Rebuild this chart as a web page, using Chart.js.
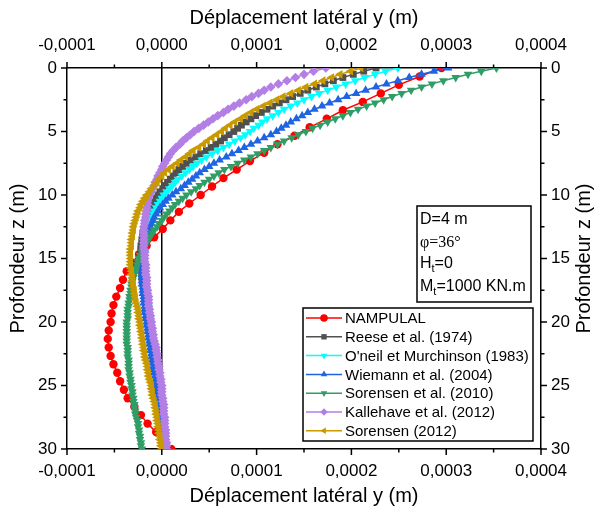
<!DOCTYPE html>
<html>
<head>
<meta charset="utf-8">
<script src="https://cdn.jsdelivr.net/npm/chart.js@4.4.1/dist/chart.umd.min.js"></script>
<style>
  html, body { margin: 0; padding: 0; background: #fff; }
  canvas { display: block; }
</style>
</head>
<body>
<canvas id="chart" width="595" height="510"></canvas>
<script>
// lateral displacement in units of 1e-4 m, depth in m
const DEPTH = [
    0,0.25,0.5,0.75,1,1.25,1.5,1.75,2,2.25,2.5,2.75,3,3.25,3.5,3.75,4,4.25,4.5,4.75,
    5,5.25,5.5,5.75,6,6.25,6.5,6.75,7,7.25,7.5,7.75,8,8.25,8.5,8.75,9,9.25,9.5,9.75,
    10,10.25,10.5,10.75,11,11.25,11.5,11.75,12,12.25,12.5,12.75,13,13.25,13.5,13.75,14,14.25,14.5,14.75,
    15,15.25,15.5,15.75,16,16.25,16.5,16.75,17,17.25,17.5,17.75,18,18.25,18.5,18.75,19,19.25,19.5,19.75,
    20,20.25,20.5,20.75,21,21.25,21.5,21.75,22,22.25,22.5,22.75,23,23.25,23.5,23.75,24,24.25,24.5,24.75,
    25,25.25,25.5,25.75,26,26.25,26.5,26.75,27,27.25,27.5,27.75,28,28.25,28.5,28.75,29,29.25,29.5,29.75,
    30];
const DEPTH_NAMPULAL = [0,0.67,1.33,2,2.67,3.33,4,4.67,5.33,6,6.67,7.33,8,8.67,9.33,10,10.67,11.33,12,12.67,13.33,14,14.67,15.33,16,16.67,17.33,18,18.67,19.33,20,20.67,21.33,22,22.67,23.33,24,24.67,25.33,26,26.67,27.33,28,28.67,29.33,30];

const NAMPULAL = [2.95,2.72,2.50,2.31,2.12,1.91,1.74,1.56,1.40,1.22,1.08,0.93,0.79,0.65,0.53,0.41,0.29,0.18,0.09,0.01,-0.08,-0.16,-0.24,-0.31,-0.37,-0.41,-0.44,-0.48,-0.51,-0.53,-0.54,-0.56,-0.57,-0.56,-0.54,-0.51,-0.47,-0.44,-0.40,-0.36,-0.29,-0.22,-0.15,-0.06,0.01,0.10];
const REESE_1974 = [
    2.26,2.13,2.02,1.91,1.81,1.72,1.63,1.54,1.46,1.38,1.31,1.24,1.17,1.11,1.05,0.99,0.94,0.89,0.84,0.80,
    0.76,0.71,0.66,0.62,0.57,0.52,0.47,0.41,0.36,0.31,0.26,0.22,0.18,0.15,0.12,0.09,0.06,0.03,0.01,-0.02,
    -0.04,-0.06,-0.08,-0.10,-0.11,-0.13,-0.14,-0.15,-0.16,-0.17,-0.18,-0.19,-0.20,-0.20,-0.21,-0.21,-0.22,-0.22,-0.22,-0.22,
    -0.22,-0.22,-0.22,-0.21,-0.21,-0.21,-0.21,-0.20,-0.20,-0.19,-0.19,-0.18,-0.18,-0.17,-0.17,-0.16,-0.16,-0.15,-0.15,-0.14,
    -0.14,-0.13,-0.13,-0.12,-0.12,-0.11,-0.11,-0.10,-0.10,-0.09,-0.09,-0.08,-0.08,-0.07,-0.07,-0.06,-0.06,-0.05,-0.05,-0.04,
    -0.04,-0.03,-0.03,-0.02,-0.02,-0.01,-0.01,0.00,0.00,0.00,0.01,0.01,0.01,0.02,0.02,0.02,0.02,0.03,0.03,0.03,
    0.03];
const ONEIL_1983 = [
    2.49,2.36,2.25,2.14,2.04,1.94,1.84,1.75,1.66,1.58,1.50,1.43,1.36,1.29,1.23,1.17,1.11,1.06,1.02,0.97,
    0.93,0.88,0.83,0.77,0.71,0.65,0.59,0.53,0.47,0.42,0.37,0.33,0.29,0.25,0.21,0.17,0.14,0.11,0.08,0.05,
    0.02,0.00,-0.02,-0.04,-0.06,-0.08,-0.09,-0.11,-0.12,-0.13,-0.14,-0.15,-0.16,-0.17,-0.17,-0.18,-0.18,-0.19,-0.19,-0.19,
    -0.19,-0.19,-0.19,-0.19,-0.18,-0.18,-0.18,-0.18,-0.17,-0.17,-0.16,-0.16,-0.16,-0.15,-0.15,-0.14,-0.14,-0.14,-0.13,-0.13,
    -0.12,-0.12,-0.12,-0.11,-0.11,-0.11,-0.10,-0.10,-0.09,-0.09,-0.08,-0.08,-0.07,-0.07,-0.06,-0.06,-0.05,-0.05,-0.04,-0.04,
    -0.03,-0.03,-0.02,-0.02,-0.02,-0.01,-0.01,0.00,0.00,0.00,0.01,0.01,0.02,0.02,0.02,0.02,0.03,0.03,0.03,0.04,
    0.04];
const WIEMANN_2004 = [
    3.02,2.87,2.74,2.61,2.49,2.37,2.26,2.15,2.05,1.95,1.86,1.77,1.69,1.61,1.54,1.48,1.42,1.36,1.31,1.26,
    1.21,1.15,1.08,1.01,0.94,0.87,0.81,0.74,0.68,0.61,0.55,0.50,0.45,0.40,0.36,0.32,0.28,0.24,0.20,0.15,
    0.11,0.07,0.04,0.01,-0.02,-0.04,-0.06,-0.08,-0.09,-0.11,-0.12,-0.13,-0.14,-0.15,-0.16,-0.17,-0.18,-0.18,-0.19,-0.19,
    -0.20,-0.20,-0.21,-0.21,-0.21,-0.21,-0.21,-0.21,-0.21,-0.20,-0.20,-0.20,-0.19,-0.19,-0.19,-0.18,-0.18,-0.18,-0.17,-0.17,
    -0.16,-0.16,-0.15,-0.15,-0.14,-0.14,-0.13,-0.13,-0.12,-0.12,-0.11,-0.11,-0.10,-0.10,-0.09,-0.09,-0.08,-0.07,-0.06,-0.06,
    -0.05,-0.05,-0.04,-0.04,-0.03,-0.03,-0.02,-0.02,-0.01,-0.01,0.00,0.00,0.01,0.01,0.01,0.01,0.02,0.02,0.02,0.03,
    0.03];
const SORENSEN_2010 = [
    3.53,3.37,3.23,3.10,2.97,2.85,2.74,2.63,2.53,2.43,2.34,2.25,2.16,2.07,1.99,1.91,1.83,1.75,1.67,1.59,
    1.52,1.44,1.37,1.29,1.22,1.15,1.08,1.01,0.94,0.87,0.80,0.73,0.66,0.60,0.55,0.50,0.45,0.40,0.36,0.31,
    0.26,0.22,0.18,0.14,0.11,0.08,0.05,0.02,0.00,-0.03,-0.05,-0.08,-0.10,-0.12,-0.14,-0.16,-0.18,-0.20,-0.21,-0.23,
    -0.24,-0.25,-0.26,-0.27,-0.28,-0.29,-0.30,-0.31,-0.32,-0.32,-0.33,-0.33,-0.34,-0.34,-0.35,-0.35,-0.36,-0.36,-0.36,-0.36,
    -0.37,-0.37,-0.37,-0.37,-0.37,-0.37,-0.37,-0.37,-0.36,-0.36,-0.36,-0.36,-0.35,-0.35,-0.35,-0.35,-0.34,-0.34,-0.33,-0.33,
    -0.32,-0.32,-0.31,-0.31,-0.30,-0.30,-0.29,-0.29,-0.28,-0.28,-0.27,-0.26,-0.25,-0.25,-0.24,-0.24,-0.23,-0.23,-0.22,-0.22,
    -0.21];
const KALLEHAVE_2012 = [
    1.73,1.60,1.50,1.41,1.32,1.23,1.15,1.08,1.02,0.95,0.89,0.82,0.76,0.70,0.65,0.59,0.54,0.49,0.44,0.39,
    0.34,0.30,0.26,0.22,0.19,0.15,0.12,0.09,0.07,0.05,0.03,0.01,0.00,-0.02,-0.04,-0.05,-0.07,-0.08,-0.10,-0.11,
    -0.13,-0.14,-0.15,-0.15,-0.16,-0.16,-0.17,-0.17,-0.18,-0.18,-0.19,-0.19,-0.19,-0.19,-0.19,-0.19,-0.19,-0.19,-0.18,-0.18,
    -0.18,-0.18,-0.17,-0.17,-0.17,-0.17,-0.16,-0.16,-0.16,-0.16,-0.15,-0.15,-0.14,-0.14,-0.14,-0.14,-0.13,-0.13,-0.12,-0.12,
    -0.11,-0.11,-0.10,-0.10,-0.09,-0.09,-0.08,-0.07,-0.06,-0.06,-0.05,-0.05,-0.04,-0.04,-0.03,-0.03,-0.02,-0.02,-0.01,-0.01,
    0.00,0.00,0.00,0.00,0.01,0.01,0.02,0.02,0.02,0.02,0.03,0.03,0.03,0.03,0.04,0.04,0.04,0.04,0.05,0.05,
    0.05];
const SORENSEN_2012 = [
    2.10,1.99,1.88,1.79,1.70,1.61,1.52,1.44,1.36,1.28,1.21,1.14,1.07,1.00,0.94,0.88,0.83,0.77,0.72,0.67,
    0.63,0.58,0.53,0.48,0.44,0.39,0.33,0.29,0.25,0.20,0.16,0.11,0.07,0.03,0.00,-0.03,-0.05,-0.08,-0.11,-0.13,
    -0.16,-0.18,-0.20,-0.22,-0.23,-0.25,-0.26,-0.27,-0.28,-0.29,-0.30,-0.30,-0.31,-0.31,-0.32,-0.32,-0.32,-0.33,-0.33,-0.33,
    -0.33,-0.33,-0.33,-0.33,-0.32,-0.32,-0.31,-0.31,-0.30,-0.30,-0.29,-0.29,-0.28,-0.28,-0.27,-0.26,-0.25,-0.25,-0.24,-0.24,
    -0.23,-0.23,-0.22,-0.22,-0.21,-0.21,-0.20,-0.20,-0.19,-0.19,-0.18,-0.18,-0.17,-0.16,-0.15,-0.15,-0.14,-0.14,-0.13,-0.12,
    -0.11,-0.11,-0.10,-0.10,-0.09,-0.08,-0.07,-0.07,-0.06,-0.06,-0.05,-0.05,-0.04,-0.04,-0.03,-0.03,-0.02,-0.02,-0.01,-0.01,
    0.00];

const SERIES_LABELS = ['NAMPULAL','Reese et al. (1974)',"O'neil et Murchinson (1983)",'Wiemann et al. (2004)','Sorensen et al. (2010)','Kallehave et al. (2012)','Sorensen (2012)'];
const X_TICK_VALUES = [-1, 0, 1, 2, 3, 4];
const X_TICK_LABELS = ['-0,0001','0,0000','0,0001','0,0002','0,0003','0,0004'];
const Y_TICK_LABELS = ['0','5','10','15','20','25','30'];
const X_TITLE = 'Déplacement latéral y (m)';
const Y_TITLE = 'Profondeur z (m)';

const FONT = '"Liberation Sans", Arial, sans-serif';

function points(depths, values) {
    return values.map((v, i) => ({ x: v, y: depths[i] }));
}

const styles = [
    { color: '#ff0000', pointStyle: 'circle', rotation: 0, radius: 4.2 },
    { color: '#505050', pointStyle: 'rect', rotation: 0, radius: 4.8 },
    { color: '#00ffff', pointStyle: 'triangle', rotation: 180, radius: 5 },
    { color: '#1f64e0', pointStyle: 'triangle', rotation: 0, radius: 5 },
    { color: '#2f9e66', pointStyle: 'triangle', rotation: 180, radius: 5 },
    { color: '#b37fe5', pointStyle: 'rectRot', rotation: 0, radius: 4.8 },
    { color: '#c89a00', pointStyle: 'triangle', rotation: 270, radius: 5 }
];

const seriesValues = [NAMPULAL, REESE_1974, ONEIL_1983, WIEMANN_2004, SORENSEN_2010, KALLEHAVE_2012, SORENSEN_2012];

const datasets = seriesValues.map((vals, i) => ({
    label: SERIES_LABELS[i],
    data: points(i === 0 ? DEPTH_NAMPULAL : DEPTH, vals),
    showLine: true,
    borderColor: styles[i].color,
    backgroundColor: styles[i].color,
    borderWidth: 1.5,
    pointStyle: styles[i].pointStyle,
    rotation: styles[i].rotation,
    pointRadius: styles[i].radius,
    pointBorderWidth: 0,
    order: seriesValues.length - i
}));

function xLabel(v) {
    const k = X_TICK_VALUES.indexOf(v);
    return k >= 0 ? X_TICK_LABELS[k] : '';
}
function yLabel(v) {
    return v % 5 === 0 ? Y_TICK_LABELS[v / 5] : '';
}

const tickFont = { family: FONT, size: 17 };

const decor = {
    id: 'decor',
    beforeDraw(chart) {
        const ctx = chart.ctx;
        ctx.save();
        ctx.fillStyle = '#fff';
        ctx.fillRect(0, 0, chart.width, chart.height);
        ctx.restore();
    },
    afterDraw(chart) {
        const { ctx, chartArea: a, scales } = chart;
        ctx.save();
        ctx.strokeStyle = '#000';
        ctx.lineWidth = 1.5;

        // tick marks, outward
        const tick = (scale, side) => {
            scale.ticks.forEach(t => {
                const len = t.label !== '' ? 6 : 3.5;
                const p = scale.getPixelForValue(t.value);
                ctx.beginPath();
                if (side === 'bottom') { ctx.moveTo(p, a.bottom); ctx.lineTo(p, a.bottom + len); }
                if (side === 'top') { ctx.moveTo(p, a.top); ctx.lineTo(p, a.top - len); }
                if (side === 'left') { ctx.moveTo(a.left, p); ctx.lineTo(a.left - len, p); }
                if (side === 'right') { ctx.moveTo(a.right, p); ctx.lineTo(a.right + len, p); }
                ctx.stroke();
            });
        };
        tick(scales.x, 'bottom');
        tick(scales.x2, 'top');
        tick(scales.y, 'left');
        tick(scales.y2, 'right');

        // axis titles
        ctx.fillStyle = '#000';
        ctx.font = '20px ' + FONT;
        ctx.textAlign = 'center';
        ctx.textBaseline = 'middle';
        const cx = (a.left + a.right) / 2, cy = (a.top + a.bottom) / 2;
        ctx.fillText(X_TITLE, cx, 18);
        ctx.fillText(X_TITLE, cx, 496);
        ctx.save();
        ctx.translate(18, cy);
        ctx.rotate(-Math.PI / 2);
        ctx.fillText(Y_TITLE, 0, 0);
        ctx.restore();
        ctx.save();
        ctx.translate(584, cy);
        ctx.rotate(-Math.PI / 2);
        ctx.fillText(Y_TITLE, 0, 0);
        ctx.restore();

        // parameter box
        const bx = 417, by = 206, bw = 114, bh = 96;
        ctx.fillStyle = '#fff';
        ctx.fillRect(bx, by, bw, bh);
        ctx.strokeRect(bx, by, bw, bh);
        ctx.fillStyle = '#000';
        ctx.textAlign = 'left';
        ctx.textBaseline = 'middle';
        ctx.font = '16px ' + FONT;
        ctx.fillText('D=4 m', bx + 3, by + 14);
        ctx.font = '16px "Liberation Serif", "Times New Roman", serif';
        ctx.fillText('\u03c6=36\u00b0', bx + 3, by + 37);
        const sub = (main, s, rest, y) => {
            ctx.font = '16px ' + FONT;
            ctx.fillText(main, bx + 3, y);
            let x = bx + 3 + ctx.measureText(main).width;
            ctx.font = '11px ' + FONT;
            ctx.fillText(s, x, y + 5);
            x += ctx.measureText(s).width;
            ctx.font = '16px ' + FONT;
            ctx.fillText(rest, x, y);
        };
        sub('H', 't', '=0', by + 58);
        sub('M', 't', '=1000 KN.m', by + 81);

        // legend
        const lx = 303, ly = 308, lw = 230, lh = 133;
        ctx.fillStyle = '#fff';
        ctx.fillRect(lx, ly, lw, lh);
        ctx.strokeRect(lx, ly, lw, lh);
        ctx.font = '15px ' + FONT;
        chart.data.datasets.forEach((ds, i) => {
            const y = ly + 10 + i * 18.8;
            ctx.strokeStyle = ds.borderColor;
            ctx.lineWidth = 1.5;
            ctx.beginPath();
            ctx.moveTo(lx + 3, y);
            ctx.lineTo(lx + 39, y);
            ctx.stroke();
            ctx.fillStyle = ds.backgroundColor;
            Chart.helpers.drawPoint(ctx, {
                pointStyle: ds.pointStyle, rotation: ds.rotation,
                radius: 3.8, borderWidth: 0
            }, lx + 21, y);
            ctx.fillStyle = '#000';
            ctx.fillText(ds.label, lx + 42, y + 1);
        });
        ctx.restore();
    }
};

new Chart(document.getElementById('chart'), {
    type: 'scatter',
    data: { datasets },
    options: {
        responsive: false,
        animation: false,
        devicePixelRatio: 1,
        layout: { padding: 0 },
        plugins: { legend: { display: false }, tooltip: { enabled: false } },
        scales: {
            x: {
                type: 'linear', position: 'bottom', min: -1, max: 4,
                afterFit: s => { s.height = 61; },
                border: { display: true, color: '#000', width: 1.5 },
                grid: {
                    drawTicks: false,
                    lineWidth: 1.5,
                    color: c => (c.tick && c.tick.value === 0 ? '#000' : 'rgba(0,0,0,0)')
                },
                ticks: { stepSize: 0.5, autoSkip: false, maxRotation: 0, padding: 12, color: '#000', font: tickFont, callback: xLabel }
            },
            x2: {
                type: 'linear', position: 'top', min: -1, max: 4,
                afterFit: s => { s.height = 68; },
                border: { display: true, color: '#000', width: 1.5 },
                grid: { display: false, drawTicks: false },
                ticks: { stepSize: 0.5, autoSkip: false, maxRotation: 0, padding: 12, color: '#000', font: tickFont, callback: xLabel }
            },
            y: {
                type: 'linear', position: 'left', min: 0, max: 30, reverse: true,
                afterFit: s => { s.width = 67; },
                border: { display: true, color: '#000', width: 1.5 },
                grid: { display: false, drawTicks: false },
                ticks: { stepSize: 2.5, autoSkip: false, padding: 10, color: '#000', font: tickFont, callback: yLabel }
            },
            y2: {
                type: 'linear', position: 'right', min: 0, max: 30, reverse: true,
                afterFit: s => { s.width = 54; },
                border: { display: true, color: '#000', width: 1.5 },
                grid: { display: false, drawTicks: false },
                ticks: { stepSize: 2.5, autoSkip: false, padding: 10, color: '#000', font: tickFont, callback: yLabel }
            }
        }
    },
    plugins: [decor]
});
</script>
</body>
</html>
